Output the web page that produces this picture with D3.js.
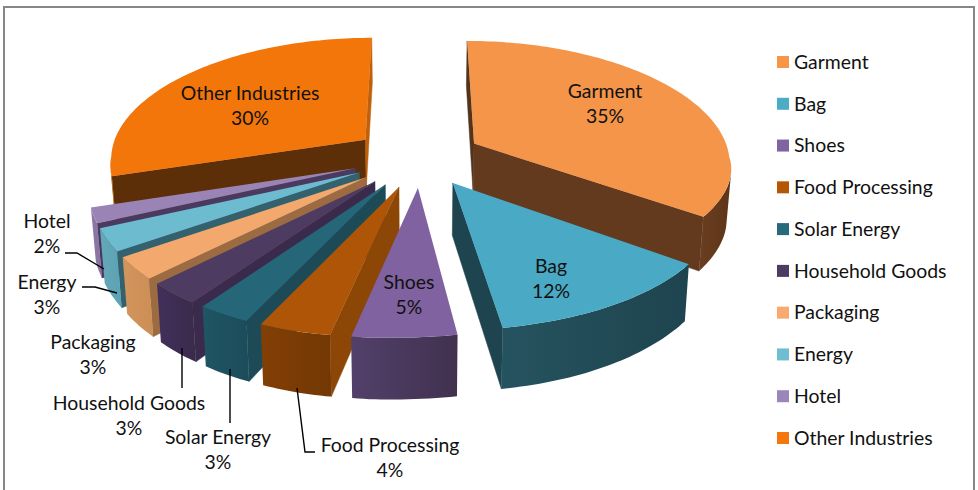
<!DOCTYPE html>
<html><head><meta charset="utf-8">
<script src="https://cdn.jsdelivr.net/npm/d3@7"></script>
<style>html,body{margin:0;padding:0;background:#fff}svg{display:block}</style>
</head><body><svg id="c" width="978" height="490"></svg>
<script>
// ---- data ----
const categories = ["Garment","Bag","Shoes","Food Processing","Solar Energy","Household Goods","Packaging","Energy","Hotel","Other Industries"];
const shares = [35,12,5,4,3,3,3,3,2,30];
// ---- styles ----
const topColors   = ["#F4954A","#4AA9C4","#7F629F","#AE5507","#256779","#4E3B61","#F3A86E","#6DBBCF","#9A84B5","#F3760A"];
const legendColors= ["#F79646","#4BACC6","#8064A2","#B65708","#276A7C","#4D3B62","#F9AA6E","#6FBDD1","#9C85B8","#F5760C"];
const startWall   = ["#53331B","#1E444F","#40304F","#8C4605","#1C4A57","#3A2A4B","#9C6B42","#33616E","#4B3A60","#5C2F08"];
const endWall     = ["#643A1E","#1E444F","#40304F","#8C4605","#1C4A57","#3A2A4B","#9C6B42","#33616E","#4B3A60","#C0600A"];
const outerFrom   = ["#6A3E20","#25535F","#52406A","#823F05","#1F5564","#42305A","#D2955C","#63A9BA","#8E78A8","#C0600A"];
const outerTo     = ["#5E3519","#1E444F","#41314F","#733804","#1C4C5A","#3A2A4B","#CC8E55","#5CA2B3","#8872A2","#C0600A"];
// ---- label layout (centre of the two-line text) ----
const labelX = [605,551,409,390,218,129,93,47,47,250];
const labelY = [91,266,282,445,437,403,342,282,221,93];
const leaderLines = [
  [[297,388],[305,452],[315,452]],
  [[230,369],[230,423]],
  [[182,348],[182,388]],
  [[117,293],[95,287],[82,287]],
  [[104,269],[77,253],[65,253]]
];
// ---- projection of the tilted, exploded pie ----
const vx=417, vy=157, A=256, B=118, explode=0.254, H=50.5;
function project(X,Y,low){
  const sx=1/(1-(Y<0?0.14:0.245)*Y), sy=1/(1-(Y<0?0.12:0.145)*Y), f=Y>0?Y*Y:0, f2=Y>0?Math.pow(Y,1.5):0;
  let x=vx+A*X*sx-19.5*f-(X<0?47*X:26*X*X)*f2;
  let y=vy+B*Y*sy;
  if(low){ x=vx+(x-vx)*0.985; y+=H*sy; }
  return [x,y];
}
const svg=d3.select("#c");
const defs=svg.append("defs");
const font='Lato, Carlito, "Open Sans", sans-serif', fs=19.4;
svg.append("rect").attr("x",4).attr("y",7).attr("width",970).attr("height",500)
   .attr("fill","#fff").attr("stroke","#868686").attr("stroke-width",2);

const arcs=d3.pie().sort(null).value(d=>d)(shares);
const line=d3.line();
const mid=a=>(a.startAngle+a.endAngle)/2;
const order=[9,0,8,7,6,5,4,3,1,2];
const g=svg.append("g");
order.forEach(i=>{
  const a=arcs[i], m=mid(a), ox=Math.sin(m)*explode, oy=-Math.cos(m)*explode;
  const n=Math.max(4,Math.ceil((a.endAngle-a.startAngle)/0.02));
  const ang=d3.range(n+1).map(k=>a.startAngle+(a.endAngle-a.startAngle)*k/n);
  const rim=ang.map(t=>[ox+Math.sin(t),oy-Math.cos(t)]);
  const P=p=>project(p[0],p[1],false), Q=p=>project(p[0],p[1],true);
  const c=[ox,oy];
  const visible=(p,q)=>d3.polygonArea([P(p),P(q),Q(q),Q(p)])>0;
  // radial walls
  [[c,rim[0],startWall[i]],[rim[n],c,endWall[i]]].forEach(([p,q,col])=>{
    if(visible(p,q)) g.append("path").attr("d",line([P(p),P(q),Q(q),Q(p)])+"Z").attr("fill",col).attr("stroke",col).attr("stroke-width",0.5);
  });
  // outer curved wall, one path per visible run
  let runs=[],cur=null;
  for(let k=0;k<n;k++){
    if(visible(rim[k],rim[k+1])){ if(!cur){cur=[rim[k]];runs.push(cur);} cur.push(rim[k+1]); } else cur=null;
  }
  runs.forEach((r,ri)=>{
    const pts=r.map(P).concat(r.slice().reverse().map(Q));
    const xs=pts.map(p=>p[0]), id=`o${i}_${ri}`;
    const lg=defs.append("linearGradient").attr("id",id).attr("gradientUnits","userSpaceOnUse")
      .attr("x1",d3.min(xs)).attr("x2",d3.max(xs)).attr("y1",0).attr("y2",0);
    lg.append("stop").attr("offset",0).attr("stop-color",outerFrom[i]);
    lg.append("stop").attr("offset",1).attr("stop-color",outerTo[i]);
    g.append("path").attr("d",line(pts)+"Z").attr("fill",`url(#${id})`);
  });
  // top face
  g.append("path").attr("d",line([c].concat(rim).map(P))+"Z").attr("fill",topColors[i]);
});
// leader lines
svg.append("g").selectAll("path").data(leaderLines).join("path")
   .attr("d",d=>line(d)).attr("fill","none").attr("stroke","#000").attr("stroke-width",1.4);
// data labels
const lab=svg.append("g").attr("font-family",font).attr("font-size",fs).attr("fill","#111").attr("text-anchor","middle");
categories.forEach((name,i)=>{
  lab.append("text").attr("x",labelX[i]).attr("y",labelY[i]).attr("dy","0.35em").text(name);
  lab.append("text").attr("x",labelX[i]).attr("y",labelY[i]+25.5).attr("dy","0.35em").text(shares[i]+"%");
});
// legend
const ly=d3.scalePoint().domain(categories).range([62,438]);
const leg=svg.append("g").selectAll("g").data(categories).join("g").attr("transform",d=>`translate(777,${ly(d)})`);
leg.append("rect").attr("y",-6).attr("width",12).attr("height",12).attr("fill",(d,i)=>legendColors[i]);
leg.append("text").attr("x",17).attr("dy","0.35em").attr("font-family",font).attr("font-size",fs).attr("fill","#111").text(d=>d);
</script></body></html>
